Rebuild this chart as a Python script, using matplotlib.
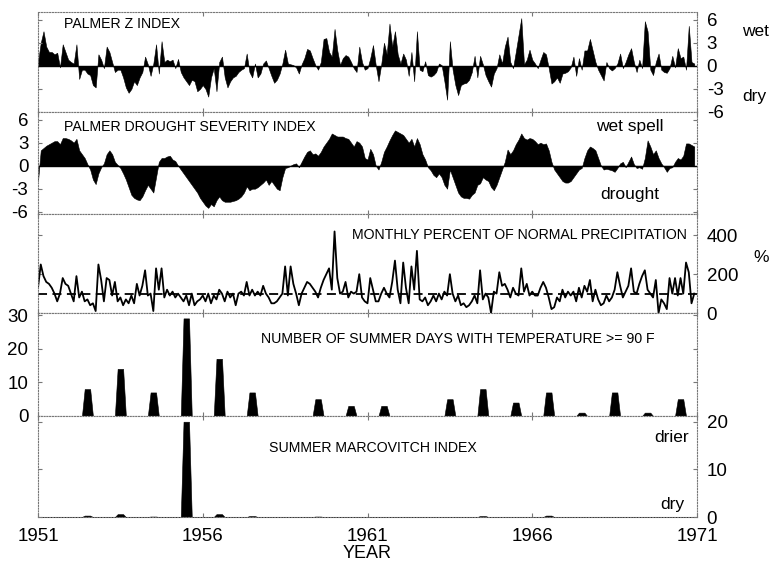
import numpy as np
import matplotlib
matplotlib.use("Agg")
import matplotlib.pyplot as plt

plt.rcParams['font.family'] = ['Liberation Sans', 'DejaVu Sans']
plt.rcParams['axes.unicode_minus'] = False

# ---------------- data (monthly, Jan 1951 .. Dec 1970) ----------------
start_year = 1951
end_year = 1971

palmer_z = [
    0.5, 3, 4.5, 2.5, 1.8, 1.8, 1.5, 1.7, -0.2, 2.8, 1.8, 0.8,
    0.5, 0.3, 2.8, -1.7, -0.5, -0.5, -1.0, -1.2, -2.5, -2.8, 1.5, 0.8,
    -0.3, 2.5, 1.8, 0.5, -0.8, -0.5, -0.5, -1.5, -2.8, -3.5, -3.0, -2.0,
    -2.5, -1.5, -0.8, 1.2, 0.2, -1.3, 0.3, 2.8, -1.0, 3.2, 0.5, 0.8,
    0.6, 0.8, -0.3, 0.9, -0.8, -1.5, -2.0, -2.5, -1.8, -2.0, -3.3, -3.0,
    -2.5, -3.0, -4.0, -1.5, -0.3, -3.3, 0.5, 1.2, -1.5, -2.8, -2.0, -1.5,
    -1.3, -0.8, -0.5, -0.3, 1.6, -0.8, -1.5, 0.3, -1.5, -1.0, 0.3, 0.7,
    -0.3, -1.3, -2.2, -1.8, -1.0, 0.3, 2.1, 0.3, 0.2, 0.1, -0.2, -1.0,
    0.2, 1.0, 2.2, 2.0, 1.0, 0.1, -0.5, 0.5, 3.5, 3.6, 1.8, 1.2,
    4.8, 2.0, 0.1, 1.0, 1.4, 1.2, 0.5, -0.3, -0.8, 2.5, 0.5, -0.5,
    -0.3, 1.0, 2.7, 0.1, -2.0, 0.2, 3.0, 1.5, 5.5, 2.5, 4.5, 1.5,
    0.3, 1.6, 0.8, -1.3, 1.8, -2.0, 4.5, -0.5, -0.7, 0.6, -1.2, -1.4,
    -1.2, -0.8, 0.3, 0.1, -2.0, -4.4, 3.2, -0.5, -2.5, -3.8, -2.5, -2.3,
    -2.2, -1.8, -0.8, 1.3, -1.5, 1.3, 0.2, -1.2, -2.0, -2.7, -1.0, -0.3,
    1.5, 0.3, 2.5, 3.8, 0.5, -0.3, 1.8, 4.0, 6.2, 0.2, 0.8, 2.1,
    0.8, 0.3, -0.3, 0.8, 1.8, 1.5, -0.3, -2.3, -2.0, -1.5, -2.2, -1.0,
    -0.9, -0.7, -0.2, 1.2, -1.3, 1.0, -0.5, 2.0, 2.0, 3.5, 2.0, 0.5,
    -0.5, -1.2, -1.9, 0.5, -0.3, -0.6, -0.3, 0.3, 1.6, -0.3, 0.5, 1.5,
    2.3, 0.5, -0.8, 0.8, -0.3, 5.8, 4.5, -0.5, -1.2, 0.5, 1.6, -0.5,
    -0.8, -0.9, -0.3, 1.3, -0.2, 2.3, 1.0, 1.2, -0.5, 5.2, 0.5, 0.3,
]

pdsi = [
    -2.0, 2.0, 2.3, 2.6, 2.8, 3.0, 3.2, 3.2, 2.8, 3.6, 3.6, 3.5,
    3.3, 3.0, 3.5, 2.0, 1.5, 1.0, 0.2, -0.5, -1.8, -2.4, -1.0, -0.2,
    0.3, 1.5, 2.0, 1.5, 0.5, 0.1, -0.3, -1.0, -1.8, -2.8, -3.8, -4.2,
    -4.4, -4.5, -4.0, -3.2, -2.5, -3.0, -3.5, -1.5, 0.5, 1.0, 1.0, 1.2,
    1.3, 0.8, 0.6, 0.0, -0.5, -1.0, -1.5, -2.0, -2.5, -3.0, -3.5, -4.2,
    -4.7, -5.2, -5.5, -5.0, -5.3, -4.5, -4.0, -4.5, -4.7, -4.7, -4.7, -4.6,
    -4.5, -4.3, -4.0, -3.5, -2.7, -3.2, -3.0, -3.0, -2.8, -2.5, -2.2, -1.8,
    -2.5, -2.0, -2.5, -3.0, -3.2, -1.5, -0.3, -0.2, 0.0, 0.2, 0.3, -0.2,
    0.5, 1.2, 1.8, 2.0, 1.5, 1.6, 1.3, 1.8, 2.5, 3.0, 3.5, 4.2,
    4.0, 3.8, 3.8, 3.8, 3.6, 3.5, 3.0, 2.5, 3.2, 3.0, 2.5, 1.0,
    0.8, 2.2, 1.5, 0.0, -0.5, 0.5, 1.8, 2.5, 3.3, 4.0, 4.6, 4.4,
    4.2, 4.0, 3.5, 3.0, 3.5, 2.5, 3.6, 2.8, 1.5, 0.8, -0.2, -0.6,
    -1.2, -1.5, -1.0, -1.5, -2.5, -3.0, -0.5, -1.5, -2.5, -3.5, -4.0, -4.2,
    -4.2, -4.3, -3.8, -3.5, -2.5, -2.3, -1.5, -1.8, -2.0, -2.8, -3.2, -2.5,
    -1.5, -0.5, 0.5, 2.1, 1.5, 2.0, 2.8, 3.4, 4.2, 3.6, 3.4, 3.6,
    3.5, 3.2, 2.8, 3.0, 2.8, 2.9, 2.0, 0.5, -0.5, -1.0, -1.5, -2.0,
    -2.2, -2.2, -2.0, -1.5, -1.0, -0.5, -0.3, 1.0, 2.0, 2.5, 2.3, 2.0,
    1.0, 0.0, -0.5, -0.4, -0.5, -0.6, -0.8, -0.3, 0.3, 0.5, -0.2, 0.5,
    1.2, 0.2, -0.3, -0.2, -0.4, 1.0, 3.3, 2.5, 1.5, 2.0, 1.0, 0.3,
    -0.2, -0.8, -0.3, -0.2, 0.5, 1.0, 0.8, 1.3, 2.9, 2.9, 2.7, 2.5,
]

precip_pct = [
    130, 250, 190, 160, 150, 130, 100, 60, 100, 180, 150, 140,
    100, 60, 190, 80, 110, 60, 70, 40, 50, 10, 250, 170,
    60, 180, 170, 90, 160, 60, 80, 40, 70, 50, 90, 50,
    150, 90, 140, 220, 90, 100, 10, 230, 120, 230, 80, 120,
    90, 110, 80, 100, 80, 60, 90, 40, 100, 40, 60, 70,
    90, 60, 100, 50, 90, 70, 120, 100, 60, 110, 80, 100,
    40, 100, 110, 90, 160, 90, 120, 90, 110, 90, 140, 100,
    80, 50, 50, 60, 80, 100, 240, 90, 240, 150, 100, 40,
    100, 130, 160, 150, 130, 110, 80, 130, 170, 200, 230, 120,
    420, 180, 100, 110, 160, 80, 110, 100, 110, 200, 80, 60,
    50, 180, 120, 60, 60, 100, 130, 100, 80, 160, 270, 120,
    50, 260, 130, 50, 240, 120, 320, 70, 60, 80, 40, 60,
    90, 60, 100, 70, 110, 90, 200, 100, 60, 90, 40, 50,
    30, 40, 60, 90, 50, 220, 70, 100, 80, 0, 110, 100,
    210, 140, 150, 120, 80, 130, 100, 90, 230, 110, 150, 90,
    110, 90, 90, 130, 160, 130, 80, 20, 30, 80, 60, 120,
    80, 110, 90, 110, 60, 130, 80, 140, 110, 170, 60, 120,
    70, 40, 50, 90, 60, 80, 120, 210, 140, 80, 110, 140,
    230, 110, 100, 150, 190, 220, 120, 100, 80, 170, 0, 70,
    50, 20, 180, 100, 180, 90, 180, 100, 260, 210, 50, 100,
]
normal_pct = 100

# annual summer values, 1951 .. 1970
summer_years = list(range(1951, 1971))
hot_days = [0, 8, 14, 7, 29, 17, 7, 0, 5, 3, 3, 0, 5, 8, 4, 7, 1, 7, 1, 5]
marcovitch = [0, 0.3, 0.6, 0.1, 20.0, 0.6, 0.2, 0, 0.1, 0, 0, 0, 0, 0.2, 0, 0.3, 0, 0, 0, 0]
summer_months = [5, 6, 7]  # June, July, August (0-based)

year_ticks = [1951, 1956, 1961, 1966, 1971]

# ---------------- helpers ----------------
n = len(palmer_z)
t = start_year + np.arange(n) / 12.0


def summer_series(values):
    s = np.zeros(n)
    for y, v in zip(summer_years, values):
        for m in summer_months:
            s[(y - start_year) * 12 + m] = v
    return s


W, H = 769, 562
fig = plt.figure(figsize=(W / 100, H / 100), dpi=100)


def fx(px):
    return px / W


def fy(py):
    return 1 - py / H


left, right = 38, 697
panels = [(12, 112), (112, 214), (214, 313), (313, 416), (416, 517)]
axes = []
for top, bot in panels:
    ax = fig.add_axes([fx(left), fy(bot), fx(right - left), fy(top) - fy(bot)])
    ax.set_xlim(start_year, end_year)
    for sp in ax.spines.values():
        sp.set_color('#777777')
        sp.set_linewidth(0.8)
        sp.set_linestyle((0, (1, 1.5)))
    ax.set_xticks(year_ticks)
    ax.tick_params(axis='x', direction='in', length=3, color='#777777',
                   labelbottom=False, top=True)
    ax.tick_params(axis='y', direction='in', length=3, color='#777777',
                   labelsize=13.5, pad=7)
    axes.append(ax)

ax1, ax2, ax3, ax4, ax5 = axes
blk = 'black'

# Panel 1: Palmer Z
z = np.array(palmer_z)
ax1.fill_between(t, 0, z, color=blk, lw=0.4)
ax1.axhline(0, color=blk, lw=1.0)
ax1.set_ylim(-6, 7)
ax1.set_yticks([6, 3, 0, -3, -6])
ax1.yaxis.tick_right()
ax1.tick_params(axis='y', left=True)

# Panel 2: PDSI
p = np.array(pdsi)
ax2.fill_between(t, 0, p, color=blk, lw=0.4)
ax2.axhline(0, color=blk, lw=1.0)
ax2.set_ylim(-6.3, 7)
ax2.set_yticks([6, 3, 0, -3, -6])
ax2.tick_params(axis='y', right=True)

# Panel 3: precipitation percent
ax3.plot(t, precip_pct, color=blk, lw=1.3)
ax3.axhline(normal_pct, color=blk, lw=1.3, ls=(0, (5, 3)))
ax3.set_ylim(0, 510)
ax3.set_yticks([0, 200, 400])
ax3.yaxis.tick_right()
ax3.tick_params(axis='y', left=True)

# Panel 4: hot days
ax4.fill_between(t, 0, summer_series(hot_days), color=blk, lw=0.4)
ax4.set_ylim(0, 30.6)
ax4.set_yticks([0, 10, 20, 30])
ax4.tick_params(axis='y', right=True)

# Panel 5: Marcovitch
ax5.fill_between(t, 0, summer_series(marcovitch), color=blk, lw=0.4)
ax5.set_ylim(0, 21.2)
ax5.set_yticks([0, 10, 20])
ax5.yaxis.tick_right()
ax5.tick_params(axis='y', left=True)
ax5.tick_params(axis='x', labelbottom=True, labelsize=13.5, pad=8)

# ---------------- text ----------------
tkw = dict(fontsize=10.2, color=blk, va='center')
fig.text(fx(64), fy(24), 'PALMER Z INDEX', ha='left', **tkw)
fig.text(fx(64), fy(127), 'PALMER DROUGHT SEVERITY INDEX', ha='left', **tkw)
fig.text(fx(687), fy(235), 'MONTHLY PERCENT OF NORMAL PRECIPITATION', ha='right', **tkw)
fig.text(fx(261), fy(339), 'NUMBER OF SUMMER DAYS WITH TEMPERATURE >= 90 F', ha='left', **tkw)
fig.text(fx(269), fy(448), 'SUMMER MARCOVITCH INDEX', ha='left', **tkw)

lkw = dict(fontsize=12.5, color=blk, va='center', ha='center')
fig.text(fx(755), fy(31), 'wet', **lkw)
fig.text(fx(754), fy(97), 'dry', **lkw)
fig.text(fx(630), fy(127), 'wet spell', **lkw)
fig.text(fx(630), fy(195), 'drought', **lkw)
fig.text(fx(761), fy(257), '%', **lkw)
fig.text(fx(672), fy(437), 'drier', **lkw)
fig.text(fx(672), fy(504), 'dry', **lkw)
fig.text(fx(367), fy(553), 'YEAR', fontsize=13, color=blk, va='center', ha='center')

fig.savefig('out.png', dpi=100)
